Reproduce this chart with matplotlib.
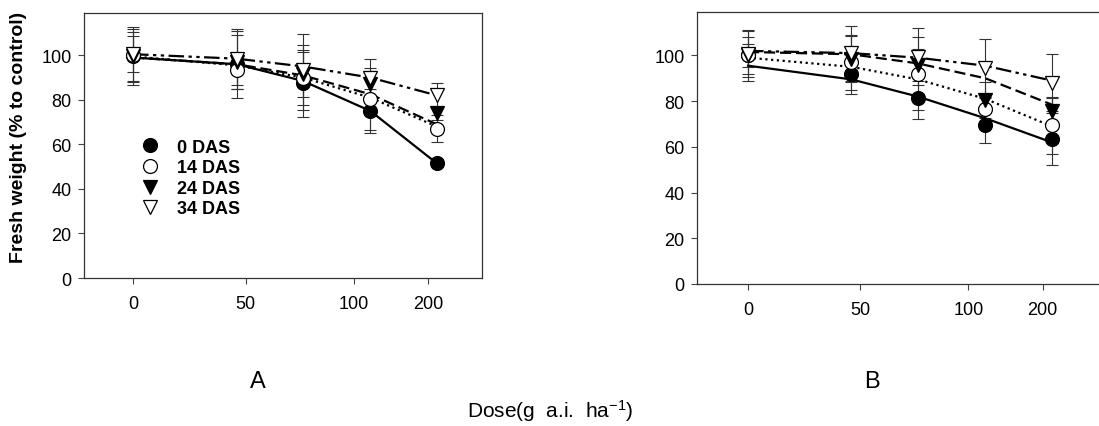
import matplotlib.pyplot as plt
from matplotlib.lines import Line2D

plt.rcParams['font.family'] = ['Liberation Sans', 'DejaVu Sans']
plt.rcParams['mathtext.default'] = 'regular'

# dose positions on the (hand-labelled) dose axis
dose_pos = [0, 46, 75.5, 105.5, 135]
tick_pos = [0, 50, 98, 131]
tick_labels = ['0', '50', '100', '200']

series = ['0 DAS', '14 DAS', '24 DAS', '34 DAS']

# panel A: means, error bars, fitted curve values
a_mean = {
    '0 DAS':  [99.5, 96, 87.5, 75, 51.5],
    '14 DAS': [100, 93.5, 90, 80.5, 67],
    '24 DAS': [99.5, 97, 91.5, 87, 74],
    '34 DAS': [100.5, 98.5, 93.5, 90, 82],
}
a_err = {
    '0 DAS':  [13, 15, 15, 10, 1],
    '14 DAS': [12, 7, 14.5, 14, 6],
    '24 DAS': [11, 12, 10, 6, 3],
    '34 DAS': [8, 13.5, 16, 8.5, 5.5],
}
a_fit = {
    '0 DAS':  [99, 96, 88.5, 75, 51.5],
    '14 DAS': [99.5, 95.5, 90, 81, 68],
    '24 DAS': [99, 96, 91, 82.5, 69],
    '34 DAS': [100.5, 98.5, 95, 90, 82],
}

# panel B
b_mean = {
    '0 DAS':  [100, 92, 81.5, 69.5, 63.5],
    '14 DAS': [100, 97, 92, 76.5, 69.5],
    '24 DAS': [100, 98.5, 96, 80.5, 75.5],
    '34 DAS': [100.5, 101, 99.5, 94.5, 88],
}
b_err = {
    '0 DAS':  [11, 9, 9.5, 8, 11.5],
    '14 DAS': [8, 12, 16, 5, 12.5],
    '24 DAS': [5, 10, 7, 8, 6],
    '34 DAS': [10, 12, 12.5, 12.5, 12.5],
}
b_fit = {
    '0 DAS':  [95.5, 89.5, 82, 72.5, 62],
    '14 DAS': [99, 95, 89.5, 81, 69],
    '24 DAS': [101.5, 100.5, 96.5, 90, 78.5],
    '34 DAS': [102, 101, 99, 95.5, 89],
}

markers = {'0 DAS': 'o', '14 DAS': 'o', '24 DAS': 'v', '34 DAS': 'v'}
faces = {'0 DAS': 'black', '14 DAS': 'white', '24 DAS': 'black', '34 DAS': 'white'}
styles = {'0 DAS': '-', '14 DAS': (0, (1, 1.6)), '24 DAS': (0, (5, 2.2)),
          '34 DAS': (0, (7, 2, 1.5, 2, 1.5, 2))}

fig = plt.figure(figsize=(10.99, 4.27), dpi=100)
axA = fig.add_axes([0.0764, 0.3466, 0.3622, 0.6206])
axB = fig.add_axes([0.6342, 0.3326, 0.3712, 0.637])


def draw(ax, mean, err, fit, xlim):
    for s in series:
        ax.errorbar(dose_pos, mean[s], yerr=err[s], fmt='none', ecolor='#333333',
                    elinewidth=0.8, capsize=4, capthick=0.8, zorder=2)
        ax.plot(dose_pos, fit[s], color='black', lw=1.6, ls=styles[s], zorder=3)
        ax.plot(dose_pos, mean[s], ls='none', marker=markers[s], ms=10,
                mfc=faces[s], mec='black', mew=0.9, zorder=4)
    ax.set_xlim(*xlim)
    ax.set_ylim(0, 119)
    ax.set_yticks([0, 20, 40, 60, 80, 100])
    ax.set_xticks(tick_pos)
    ax.set_xticklabels(tick_labels)
    ax.tick_params(axis='both', labelsize=13, length=4, width=0.8, color='#444444')
    ax.tick_params(axis='x', pad=8)
    ax.tick_params(axis='y', pad=5)
    for sp in ax.spines.values():
        sp.set_linewidth(0.9)
        sp.set_color('#333333')


draw(axA, a_mean, a_err, a_fit, (-21.8, 155.1))
draw(axB, b_mean, b_err, b_fit, (-22.7, 158.7))

handles = [Line2D([], [], ls='none', marker=markers[s], ms=10, mfc=faces[s],
                  mec='black', mew=0.9) for s in series]
axA.legend(handles, series, loc='upper left', bbox_to_anchor=(0.12, 0.56),
           frameon=False, handlelength=1.0, handletextpad=1.0, labelspacing=0.2,
           borderpad=0, prop={'weight': 'bold', 'size': 13})

fig.text(0.017, 0.677, 'Fresh weight (% to control)', rotation=90, ha='center',
         va='center', fontsize=14, fontweight='bold')
fig.text(258 / 1099, 1 - 382 / 427, 'A', ha='center', va='center', fontsize=17)
fig.text(872 / 1099, 1 - 382 / 427, 'B', ha='center', va='center', fontsize=17)
fig.text(550 / 1099, 1 - 411 / 427, 'Dose(g  a.i.  ha$^{-1}$)', ha='center',
         va='center', fontsize=15)

fig.savefig('out.png', dpi=100)
